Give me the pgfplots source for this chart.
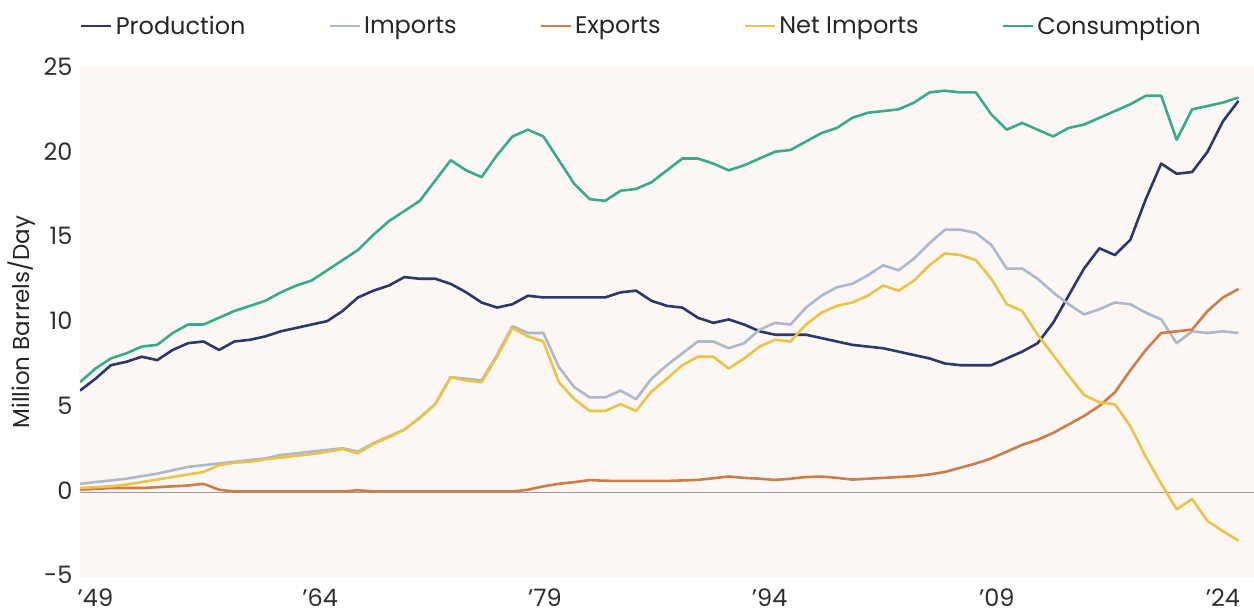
\documentclass[border=0pt]{standalone}
\usepackage{fontspec}
\setmainfont{Poppins}
\usepackage{pgfplots}
\usepackage{pgfplotstable}
\pgfplotsset{compat=1.18}

\definecolor{prod}{HTML}{2C386A}
\definecolor{imp}{HTML}{AEB8CB}
\definecolor{expo}{HTML}{CF7D48}
\definecolor{net}{HTML}{EAC449}
\definecolor{cons}{HTML}{3AAA8D}
\definecolor{bg}{HTML}{FCF6F4}

\pgfplotstableread{
year prod imp exp net cons
1949 6.0 0.5 0.15 0.25 6.5
1950 6.7 0.6 0.2 0.3 7.3
1951 7.5 0.7 0.25 0.35 7.9
1952 7.7 0.8 0.25 0.45 8.2
1953 8.0 0.95 0.25 0.6 8.6
1954 7.8 1.1 0.3 0.75 8.7
1955 8.4 1.3 0.35 0.9 9.4
1956 8.8 1.5 0.4 1.05 9.9
1957 8.9 1.6 0.5 1.2 9.9
1958 8.4 1.7 0.15 1.6 10.3
1959 8.9 1.8 0.05 1.75 10.7
1960 9.0 1.9 0.05 1.8 11.0
1961 9.2 2.0 0.05 1.95 11.3
1962 9.5 2.2 0.05 2.05 11.8
1963 9.7 2.3 0.05 2.15 12.2
1964 9.9 2.4 0.05 2.25 12.5
1965 10.1 2.5 0.05 2.4 13.1
1966 10.7 2.6 0.05 2.55 13.7
1967 11.5 2.4 0.12 2.3 14.3
1968 11.9 2.9 0.05 2.85 15.2
1969 12.2 3.3 0.05 3.25 16.0
1970 12.7 3.7 0.05 3.7 16.6
1971 12.6 4.4 0.05 4.4 17.2
1972 12.6 5.2 0.05 5.2 18.4
1973 12.3 6.8 0.05 6.8 19.6
1974 11.8 6.7 0.05 6.6 19.0
1975 11.2 6.6 0.05 6.5 18.6
1976 10.9 8.1 0.05 8.0 19.9
1977 11.1 9.8 0.05 9.7 21.0
1978 11.6 9.4 0.15 9.2 21.4
1979 11.5 9.4 0.35 8.9 21.0
1980 11.5 7.4 0.5 6.5 19.6
1981 11.5 6.2 0.6 5.5 18.2
1982 11.5 5.6 0.72 4.8 17.3
1983 11.5 5.6 0.68 4.8 17.2
1984 11.8 6.0 0.67 5.2 17.8
1985 11.9 5.5 0.67 4.8 17.9
1986 11.3 6.7 0.67 5.95 18.3
1987 11.0 7.5 0.67 6.7 19.0
1988 10.9 8.2 0.7 7.5 19.7
1989 10.3 8.9 0.73 8.0 19.7
1990 10.0 8.9 0.83 8.0 19.4
1991 10.2 8.5 0.93 7.3 19.0
1992 9.9 8.8 0.85 7.9 19.3
1993 9.5 9.6 0.8 8.6 19.7
1994 9.3 10.0 0.73 9.0 20.1
1995 9.3 9.9 0.8 8.9 20.2
1996 9.3 10.9 0.9 9.9 20.7
1997 9.1 11.6 0.93 10.6 21.2
1998 8.9 12.1 0.85 11.0 21.5
1999 8.7 12.3 0.75 11.2 22.1
2000 8.6 12.8 0.8 11.6 22.4
2001 8.5 13.4 0.85 12.2 22.5
2002 8.3 13.1 0.9 11.9 22.6
2003 8.1 13.8 0.95 12.5 23.0
2004 7.9 14.7 1.05 13.4 23.6
2005 7.6 15.5 1.2 14.1 23.7
2006 7.5 15.5 1.45 14.0 23.6
2007 7.5 15.3 1.7 13.7 23.6
2008 7.5 14.6 2.0 12.6 22.3
2009 7.9 13.2 2.4 11.1 21.4
2010 8.3 13.2 2.8 10.7 21.8
2011 8.8 12.6 3.1 9.3 21.4
2012 10.0 11.8 3.5 8.1 21.0
2013 11.6 11.1 4.0 6.9 21.5
2014 13.2 10.5 4.5 5.75 21.7
2015 14.4 10.8 5.1 5.3 22.1
2016 14.0 11.2 5.9 5.2 22.5
2017 14.9 11.1 7.2 3.9 22.9
2018 17.3 10.6 8.4 2.1 23.4
2019 19.4 10.2 9.4 0.5 23.4
2020 18.8 8.8 9.5 -1.0 20.8
2021 18.9 9.5 9.6 -0.4 22.6
2022 20.1 9.4 10.7 -1.7 22.8
2023 21.9 9.5 11.5 -2.3 23.0
2024 23.1 9.4 12.0 -2.85 23.3
}\data

\begin{document}
\begin{tikzpicture}
\useasboundingbox (0pt,0pt) rectangle (1254pt,616pt);
\begin{axis}[
  at={(80pt,39pt)}, anchor=south west,
  scale only axis, width=1174pt, height=510pt,
  xmin=1949, xmax=2025, ymin=-5, ymax=25.1,
  axis background/.style={fill=bg},
  axis line style={draw=none},
  major tick length=0pt,
  ytick={-5,0,5,10,15,20,25},
  xtick={1950,1964.55,1979.1,1993.65,2008.35,2023},
  xticklabels={'49,'64,'79,'94,'09,'24},
  /pgf/number format/assume math mode=true,
  tick label style={font=\fontsize{24}{28}\selectfont, text=black!82},
  yticklabel style={xshift=-4pt, yshift=2pt},
  xticklabel style={yshift=-8pt},
  every axis y label/.style={at={(axis description cs:-0.0494,0.5)}, rotate=90, anchor=center},
  ylabel={Million Barrels/Day},
  ylabel style={font=\fontsize{23}{27}\selectfont, text=black!85},
  legend columns=5,
  legend style={at={(axis description cs:0,1.0804)}, anchor=west, draw=none, fill=none,
    font=\fontsize{24}{28}\selectfont, text=black!85, inner sep=0pt,
    nodes={inner xsep=3pt, inner ysep=2pt},
    /tikz/every even column/.append style={column sep=80pt}},
  legend image code/.code={\draw[#1, line width=2.6pt] (0pt,0pt) -- (30pt,0pt);},
  every axis plot/.append style={line width=2.6pt, line join=round},
]
\addplot[black!40, line width=1.4pt, forget plot] coordinates {(1949,0) (2025,0)};
\addplot[prod] table[x=year, y=prod] {\data};
\addlegendentry{Production}
\addplot[imp] table[x=year, y=imp] {\data};
\addlegendentry{Imports}
\addplot[expo] table[x=year, y=exp] {\data};
\addlegendentry{Exports}
\addplot[net] table[x=year, y=net] {\data};
\addlegendentry{Net Imports}
\addplot[cons] table[x=year, y=cons] {\data};
\addlegendentry{Consumption}
\end{axis}
\end{tikzpicture}
\end{document}
